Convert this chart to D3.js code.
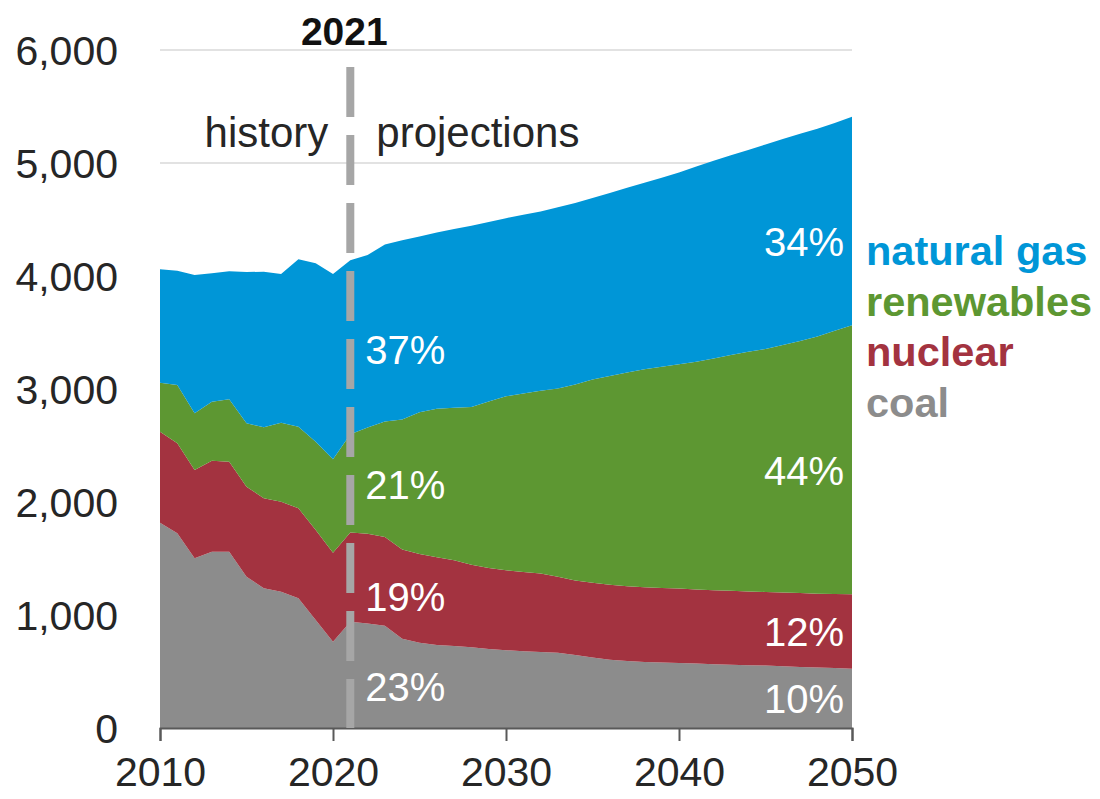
<!DOCTYPE html>
<html>
<head>
<meta charset="utf-8">
<script src="https://cdn.jsdelivr.net/npm/d3@7"></script>
<style>
  body { margin: 0; background: #fff; }
  svg { font-family: "Liberation Sans", Arial, sans-serif; }
</style>
</head>
<body>
<div id="chart"></div>
<script>
// electricity generation by fuel, billion kWh
const years = d3.range(2010, 2051);
const coal = [1817, 1723, 1502, 1560, 1560, 1339, 1236, 1206, 1148, 956, 764,
    940, 925, 905, 790, 755, 735, 725, 715, 700, 688,
    680, 672, 665, 645, 625, 605, 592, 585, 580, 575,
    570, 565, 560, 556, 552, 546, 540, 535, 530, 525];
const nuclear = [805, 796, 781, 806, 797, 796, 797, 797, 796, 796, 787,
    790, 795, 785, 790, 785, 775, 760, 730, 715, 707,
    700, 696, 673, 660, 660, 663, 662, 661, 660, 659,
    656, 654, 654, 653, 652, 653, 654, 654, 656, 658];
const renewables = [434, 516, 502, 522, 552, 561, 628, 699, 723, 782, 827,
    870, 940, 1022, 1150, 1255, 1315, 1350, 1395, 1475, 1540,
    1580, 1617, 1666, 1735, 1800, 1847, 1891, 1928, 1957, 1985,
    2016, 2051, 2086, 2121, 2151, 2191, 2231, 2276, 2329, 2381];
const naturalGas = [1003, 1012, 1224, 1136, 1132, 1339, 1377, 1316, 1481, 1578, 1640,
    1540, 1525, 1566, 1587, 1555, 1560, 1580, 1605, 1588, 1577,
    1582, 1586, 1604, 1606, 1605, 1620, 1635, 1651, 1673, 1696,
    1726, 1750, 1768, 1785, 1809, 1823, 1833, 1838, 1840, 1846];

const seriesNames = ['coal', 'nuclear', 'renewables', 'natural gas'];
const seriesValues = [coal, nuclear, renewables, naturalGas];
const colors = ['#8c8c8c', '#a33340', '#5d9732', '#0096d7'];
const yTicks = [0, 1000, 2000, 3000, 4000, 5000, 6000];
const xTicks = [2010, 2020, 2030, 2040, 2050];
const lastHistoryYear = 2021;

const width = 1100, height = 799;
const plotLeft = 160, plotRight = 852, plotTop = 50, plotBottom = 728;

const rows = years.map((yr, i) => {
    const row = { year: yr };
    seriesNames.forEach((name, j) => { row[name] = seriesValues[j][i]; });
    return row;
});

const x = d3.scaleLinear().domain([2010, 2050]).range([plotLeft, plotRight]);
const y = d3.scaleLinear().domain([0, 6000]).range([plotBottom, plotTop]);

const svg = d3.select('#chart').append('svg')
    .attr('width', width)
    .attr('height', height);

// gridlines
svg.append('g').selectAll('line').data(yTicks).enter().append('line')
    .attr('x1', plotLeft).attr('x2', plotRight)
    .attr('y1', d => y(d)).attr('y2', d => y(d))
    .style('stroke', '#d9d9d9').style('stroke-width', 1.5);

// y labels
svg.append('g').selectAll('text').data(yTicks).enter().append('text')
    .attr('x', plotLeft - 42)
    .attr('y', d => y(d))
    .attr('dy', '0.36em')
    .attr('text-anchor', 'end')
    .style('font-size', '41px')
    .style('fill', '#262626')
    .text(d3.format(','));

const stacked = d3.stack().keys(seriesNames)(rows);
const area = d3.area()
    .x(d => x(d.data.year))
    .y0(d => y(d[0]))
    .y1(d => y(d[1]));

svg.append('g').selectAll('path').data(stacked).enter().append('path')
    .attr('d', area)
    .style('fill', (d, i) => colors[i]);

// x axis
const xAxis = d3.axisBottom(x).tickValues(xTicks).tickFormat(d3.format('d'))
    .tickSize(13).tickSizeOuter(13).tickPadding(16);
const gx = svg.append('g').attr('transform', `translate(0,${plotBottom})`).call(xAxis);
gx.select('.domain').style('stroke', '#595959').style('stroke-width', 2);
gx.selectAll('.tick line').style('stroke', '#595959').style('stroke-width', 2);
gx.selectAll('.tick text')
    .style('font-size', '41px')
    .style('font-family', '"Liberation Sans", Arial, sans-serif')
    .style('fill', '#262626');

// history / projections divider
const xDiv = x(lastHistoryYear);
svg.append('line')
    .attr('x1', xDiv).attr('x2', xDiv)
    .attr('y1', 67).attr('y2', plotBottom)
    .style('stroke', '#a6a6a6')
    .style('stroke-width', 8)
    .style('stroke-dasharray', '50,18');

svg.append('text')
    .attr('x', xDiv - 6).attr('y', 45)
    .attr('text-anchor', 'middle')
    .style('font-size', '39px').style('font-weight', 'bold')
    .style('fill', '#111')
    .text(String(lastHistoryYear));

svg.append('text')
    .attr('x', xDiv - 22).attr('y', 147)
    .attr('text-anchor', 'end')
    .style('font-size', '42px').style('fill', '#262626')
    .text('history');

svg.append('text')
    .attr('x', xDiv + 26).attr('y', 147)
    .style('font-size', '42px').style('fill', '#262626')
    .text('projections');

// share labels, centred in each band with a small nudge (px)
const pct = d3.format('.0%');
function shareLabels(yr, midYear, xPos, anchor, nudge) {
    const i = years.indexOf(yr);
    const total = d3.sum(seriesValues, s => s[i]);
    const m = years.indexOf(midYear);
    svg.append('g').selectAll('text').data(stacked).enter().append('text')
        .attr('x', xPos)
        .attr('y', (d, j) => y((d[m][0] + d[m][1]) / 2) + nudge[j])
        .attr('dy', '0.36em')
        .attr('text-anchor', anchor)
        .style('font-size', '40px')
        .style('fill', '#fff')
        .text((d, j) => pct(seriesValues[j][i] / total));
}
shareLabels(2021, 2024, xDiv + 15, 'start', [3, 3, 0, 20]);
shareLabels(2050, 2050, plotRight - 8, 'end', [0, 0, 11, 21]);

// legend
svg.append('g').selectAll('text').data(seriesNames.slice().reverse()).enter().append('text')
    .attr('x', 866)
    .attr('y', (d, i) => 265 + i * 50.7)
    .style('font-size', '41.5px').style('font-weight', 'bold')
    .style('fill', (d, i) => colors[colors.length - 1 - i])
    .text(d => d);
</script>
</body>
</html>
